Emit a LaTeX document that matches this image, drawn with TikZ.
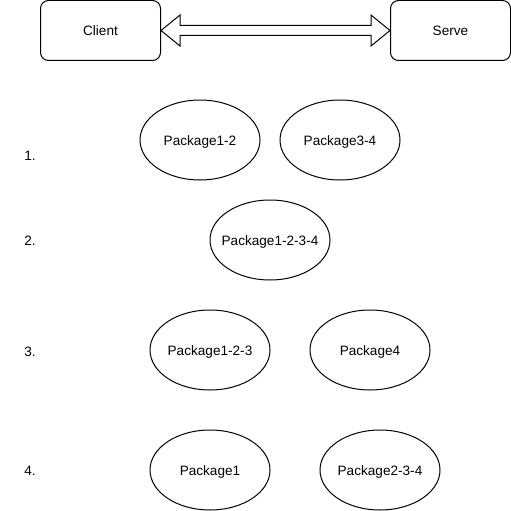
\documentclass[tikz,border=0pt]{standalone}
\usepackage{fontspec}
\setmainfont{Liberation Sans}
\usetikzlibrary{calc, shapes.geometric}

\begin{document}
\begin{tikzpicture}[x=1pt, y=-1pt, line width=1pt, font=\fontsize{13.6}{16}\selectfont, end box/.style={rectangle, draw, rounded corners=8pt, minimum width=120pt, minimum height=60pt}, pkg node/.style={ellipse, draw, minimum width=120pt, minimum height=80pt, inner sep=0pt, label={[yshift=-2pt]center:#1}}, step label/.style={draw=none}]
\useasboundingbox (0,0) rectangle (511,511);
\node[end box](client) at (100.5,30.5){Client};
\node[end box](serve) at (450.5,30.5){Serve};
\draw (client.east) -- ++(19,-15.5) -- ++(0,10.5) -- ($(serve.west)+(-19,-5)$) -- ++(0,-10.5) -- (serve.west) -- ++(-19,15.5) -- ++(0,-10.5) -- ($(client.east)+(19,5)$) -- ++(0,10.5) -- cycle;
\node[pkg node=Package1-2](p12) at (200,140){};
\node[pkg node=Package3-4](p34) at (340,140){};
\node[pkg node=Package1-2-3-4](p1234) at (270,240){};
\node[pkg node=Package1-2-3](p123) at (210,350){};
\node[pkg node=Package4](p4) at (370,350){};
\node[pkg node=Package1](p1) at (210,470){};
\node[pkg node=Package2-3-4](p234) at (380,470){};
\foreach \n/\y in {1/156, 2/241, 3/352, 4/471}{
    \node[step label](s\n) at (30,\y){\n.};}
\end{tikzpicture}
\end{document}
